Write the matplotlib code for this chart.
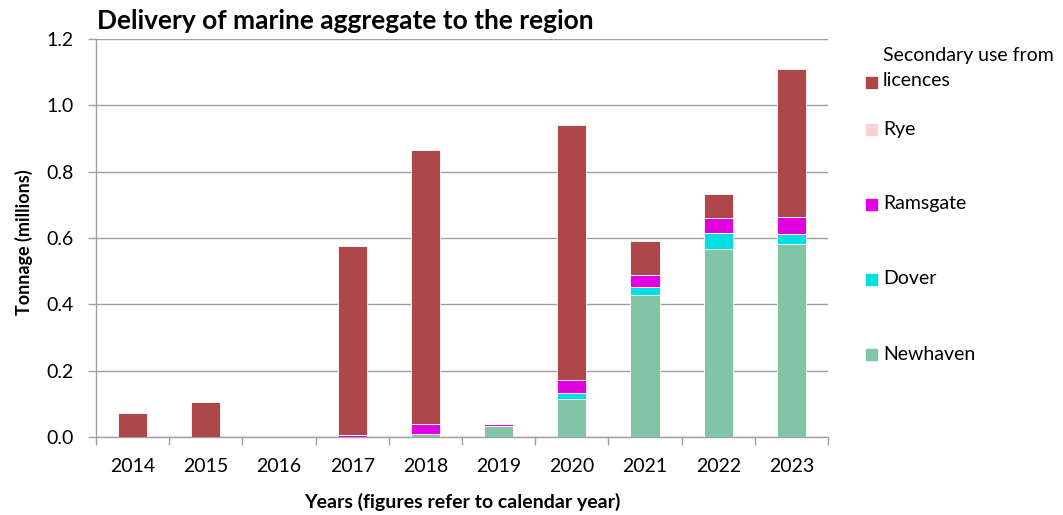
import matplotlib
matplotlib.use("Agg")
import matplotlib.pyplot as plt
from matplotlib.patches import Rectangle
import numpy as np

plt.rcParams['font.family'] = ['Lato', 'DejaVu Sans']

years = ["2014", "2015", "2016", "2017", "2018", "2019", "2020", "2021", "2022", "2023"]
newhaven = [0.0, 0.0, 0.0, 0.0, 0.008, 0.034, 0.114, 0.427, 0.566, 0.582]
dover = [0.0, 0.0, 0.0, 0.0, 0.0, 0.0, 0.019, 0.025, 0.049, 0.031]
ramsgate = [0.0, 0.0, 0.0, 0.006, 0.032, 0.005, 0.039, 0.035, 0.045, 0.050]
rye = [0.0, 0.0, 0.0, 0.0, 0.0, 0.0, 0.0, 0.0, 0.0, 0.0]
secondary = [0.072, 0.105, 0.0, 0.570, 0.825, 0.001, 0.768, 0.105, 0.073, 0.447]

series = [
    ("Newhaven", newhaven, "#82C4A6"),
    ("Dover", dover, "#00E0E0"),
    ("Ramsgate", ramsgate, "#E300E0"),
    ("Rye", rye, "#F9D2D5"),
    ("Secondary use from\nlicences", secondary, "#AD474A"),
]

fig = plt.figure(figsize=(10.63, 5.15), dpi=100)
ax = fig.add_axes([0.0903, 0.1515, 0.6887, 0.7728])

x = np.arange(len(years))
bottom = np.zeros(len(years))
for name, vals, col in series:
    vals = np.array(vals)
    ax.bar(x, vals, width=0.4, bottom=bottom, color=col, edgecolor="white", linewidth=0.6, zorder=3)
    bottom += vals

ax.set_xlim(-0.5, len(years) - 0.5)
ax.set_ylim(0, 1.2)
ax.set_yticks(np.arange(0, 1.21, 0.2))
ax.set_yticklabels([f"{v:.1f}" for v in np.arange(0, 1.21, 0.2)])
ax.set_xticks(x)
ax.set_xticklabels(years)
ax.set_xticks(np.arange(-0.5, len(years), 1), minor=True)
ax.tick_params(axis="x", which="major", length=0, labelsize=14, pad=15)
ax.tick_params(axis="x", which="minor", length=6, color="#A0A0A0", width=1)
ax.tick_params(axis="y", length=6, color="#A0A0A0", width=1, labelsize=14, pad=10)
ax.yaxis.grid(True, color="#A0A0A0", linewidth=1, zorder=0)
ax.set_axisbelow(True)
for s in ["top", "right"]:
    ax.spines[s].set_visible(False)
for s in ["left", "bottom"]:
    ax.spines[s].set_color("#A0A0A0")
    ax.spines[s].set_linewidth(1)

ax.set_ylabel("Tonnage (millions)", fontsize=13, fontweight="bold")
ax.yaxis.set_label_coords(-0.086, 0.49)
ax.set_xlabel("Years (figures refer to calendar year)", fontsize=14, fontweight="bold", labelpad=13)
fig.text(0.0912, 0.96, "Delivery of marine aggregate to the region", fontsize=19,
         fontweight="bold", va="center", ha="left")

# legend drawn by hand, top entry first
leg_y = [82, 129, 204, 279, 354]
for (name, vals, col), yy in zip(reversed(series), leg_y):
    fy = 1 - yy / 515
    fig.add_artist(Rectangle((866 / 1063, fy - 6 / 515), 11 / 1063, 11 / 515,
                             transform=fig.transFigure, color=col))
    if "\n" in name:
        fig.text(883 / 1063, 1 - 68 / 515, name, fontsize=14, va="center", ha="left", linespacing=1.55)
    else:
        fig.text(883 / 1063, fy, name, fontsize=14, va="center", ha="left")

fig.savefig("out.png", dpi=100)
